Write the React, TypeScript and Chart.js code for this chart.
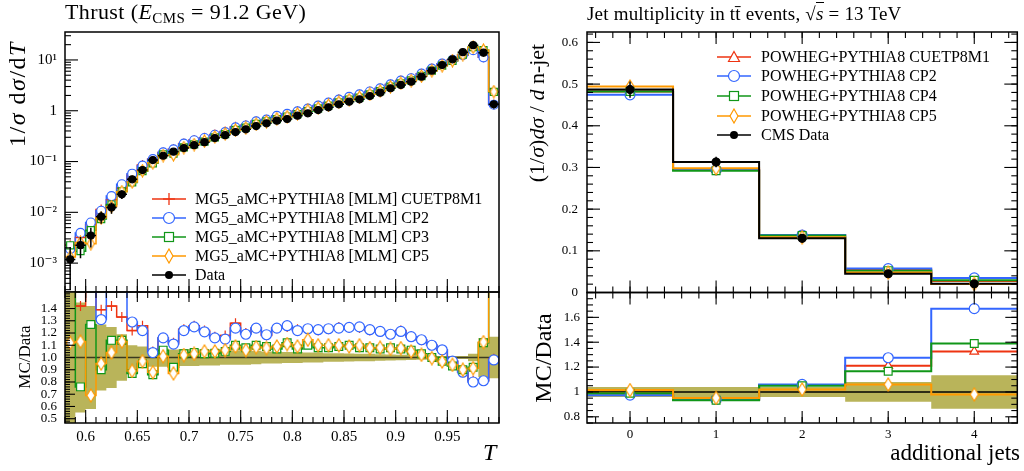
import React, { useEffect, useRef } from 'react';
import { Chart, registerables } from 'chart.js';

Chart.register(...registerables);

const FONT = "'Liberation Serif', 'DejaVu Serif', serif";
const RED = '#EE3311';
const BLUE = '#3366FF';
const GREEN = '#109618';
const ORANGE = '#FF9900';
const BAND = '#b9b45a';

// ---------------- Left panel: Thrust (E_CMS = 91.2 GeV) ----------------
const thrustEdges = [0.58, 0.59, 0.6, 0.61, 0.62, 0.63, 0.64, 0.65, 0.66, 0.67, 0.68, 0.69, 0.7, 0.71, 0.72, 0.73, 0.74, 0.75, 0.76, 0.77, 0.78, 0.79, 0.8, 0.81, 0.82, 0.83, 0.84, 0.85, 0.86, 0.87, 0.88, 0.89, 0.9, 0.91, 0.92, 0.93, 0.94, 0.95, 0.96, 0.97, 0.98, 0.99, 1.0];
const thrustData = [0.00118, 0.00226, 0.0035, 0.0082, 0.0125, 0.0226, 0.0446, 0.068, 0.107, 0.13, 0.156, 0.184, 0.21, 0.24, 0.29, 0.33, 0.38, 0.43, 0.5, 0.566, 0.637, 0.687, 0.8, 0.89, 1.03, 1.17, 1.34, 1.51, 1.68, 1.95, 2.27, 2.77, 3.22, 3.73, 4.69, 6.15, 7.96, 10.3, 14.2, 19.5, 13.9, 1.34];
const thrustDataRelErr = [0.75, 0.45, 0.42, 0.27, 0.25, 0.19, 0.1, 0.09, 0.075, 0.075, 0.065, 0.07, 0.07, 0.065, 0.065, 0.06, 0.06, 0.06, 0.055, 0.05, 0.05, 0.045, 0.045, 0.04, 0.04, 0.035, 0.035, 0.033, 0.03, 0.03, 0.027, 0.025, 0.022, 0.02, 0.018, 0.016, 0.013, 0.012, 0.012, 0.03, 0.16, 0.17];
// MC / Data ratios
const thrustRatioCUETP8M1 = [1.9, 1.42, 1.65, 1.39, 1.42, 1.33, 1.22, 1.26, 1.05, 1.16, 1.12, 1.23, 1.26, 1.22, 1.17, 1.18, 1.28, 1.2, 1.24, 1.18, 1.24, 1.25, 1.23, 1.23, 1.22, 1.23, 1.25, 1.24, 1.24, 1.22, 1.21, 1.19, 1.22, 1.17, 1.14, 1.1, 1.06, 0.97, 0.88, 0.81, 0.81, 0.99];
const thrustRatioCP2 = [1.6, 1.74, 1.8, 1.31, 1.67, 1.58, 1.29, 1.22, 1.04, 1.16, 1.11, 1.22, 1.25, 1.21, 1.16, 1.15, 1.24, 1.19, 1.24, 1.186, 1.24, 1.26, 1.22, 1.235, 1.227, 1.235, 1.24, 1.246, 1.25, 1.227, 1.213, 1.19, 1.213, 1.17, 1.145, 1.1, 1.063, 0.97, 0.88, 0.8, 0.81, 0.98];
const thrustRatioCP3 = [1.9, 0.76, 1.27, 0.9, 1.14, 1.14, 0.87, 0.95, 0.86, 1.06, 0.92, 1.03, 1.04, 1.03, 1.035, 1.05, 1.1, 1.08, 1.1, 1.09, 1.07, 1.12, 1.07, 1.1, 1.08, 1.08, 1.09, 1.1, 1.08, 1.08, 1.07, 1.08, 1.07, 1.06, 1.03, 1.0, 0.97, 0.93, 0.9, 0.92, 1.12, 1.75];
const thrustRatioCP5 = [1.12, 1.13, 0.69, 0.95, 1.04, 1.13, 0.89, 0.97, 0.88, 1.01, 0.87, 1.02, 1.03, 1.05, 1.05, 1.06, 1.09, 1.06, 1.085, 1.077, 1.09, 1.11, 1.09, 1.145, 1.1, 1.1, 1.1, 1.09, 1.1, 1.077, 1.08, 1.07, 1.077, 1.05, 1.022, 0.995, 0.967, 0.94, 0.9, 0.913, 1.126, 1.78];
const thrustLogTicks = [1e-3, 1e-2, 1e-1, 1, 10];
const thrustLogTickLabels = ['10⁻³', '10⁻²', '10⁻¹', '1', '10¹'];
const thrustXTicks = [0.6, 0.65, 0.7, 0.75, 0.8, 0.85, 0.9, 0.95];
const thrustXTickLabels = ['0.6', '0.65', '0.7', '0.75', '0.8', '0.85', '0.9', '0.95'];
const thrustRatioTicks = [0.5, 0.6, 0.7, 0.8, 0.9, 1.0, 1.1, 1.2, 1.3, 1.4];
const thrustRatioTickLabels = ['0.5', '0.6', '0.7', '0.8', '0.9', '1.0', '1.1', '1.2', '1.3', '1.4'];

// ---------------- Right panel: jet multiplicity in ttbar ----------------
const njetCategories = [0, 1, 2, 3, 4];
const njetEdges = [-0.5, 0.5, 1.5, 2.5, 3.5, 4.5];
const njetData = [0.487, 0.313, 0.13, 0.045, 0.021];
const njetDataRelErr = [0.04, 0.04, 0.04, 0.08, 0.135];
const njetRatioCUETP8M1 = [0.99, 0.94, 1.055, 1.21, 1.325];
const njetRatioCP2 = [0.974, 0.94, 1.06, 1.275, 1.67];
const njetRatioCP4 = [0.99, 0.933, 1.05, 1.166, 1.39];
const njetRatioCP5 = [1.015, 0.952, 1.02, 1.06, 0.98];
const njetYTicks = [0, 0.1, 0.2, 0.3, 0.4, 0.5, 0.6];
const njetYTickLabels = ['0', '0.1', '0.2', '0.3', '0.4', '0.5', '0.6'];
const njetRatioTicks = [0.8, 1.0, 1.2, 1.4, 1.6];
const njetRatioTickLabels = ['0.8', '1', '1.2', '1.4', '1.6'];
const njetXTickLabels = ['0', '1', '2', '3', '4'];

// ---------------- helpers ----------------
type Pt = { x: number; y: number | null };

const range = (a: number, b: number, step: number) => {
  const out: number[] = [];
  const n = Math.round((b - a) / step);
  for (let i = 0; i <= n; i++) out.push(+(a + i * step).toFixed(6));
  return out;
};

const stepPts = (edges: number[], vals: number[]): Pt[] => {
  const pts: Pt[] = vals.map((v, i) => ({ x: edges[i], y: v }));
  pts.push({ x: edges[edges.length - 1], y: vals[vals.length - 1] });
  return pts;
};
const centerPts = (edges: number[], vals: number[]): Pt[] =>
  vals.map((v, i) => ({ x: (edges[i] + edges[i + 1]) / 2, y: v }));
const vErrPts = (edges: number[], vals: number[], rel: number[]): Pt[] =>
  vals.flatMap((v, i) => {
    const c = (edges[i] + edges[i + 1]) / 2;
    return [{ x: c, y: v * (1 - rel[i]) }, { x: c, y: v * (1 + rel[i]) }, { x: c, y: null }];
  });
const hBarPts = (edges: number[], vals: number[]): Pt[] =>
  vals.flatMap((v, i) => [{ x: edges[i], y: v }, { x: edges[i + 1], y: v }, { x: edges[i + 1], y: null }]);

function mkDiamond(w: number, h: number, color: string): HTMLCanvasElement {
  const c = document.createElement('canvas');
  c.width = w + 2;
  c.height = h + 2;
  const g = c.getContext('2d')!;
  g.beginPath();
  g.moveTo(c.width / 2, 1);
  g.lineTo(c.width - 1, c.height / 2);
  g.lineTo(c.width / 2, c.height - 1);
  g.lineTo(1, c.height / 2);
  g.closePath();
  g.fillStyle = '#fff';
  g.fill();
  g.strokeStyle = color;
  g.lineWidth = 1.2;
  g.stroke();
  return c;
}

const stepDs = (data: Pt[], color: string, width: number) => ({
  data, borderColor: color, backgroundColor: color, borderWidth: width, stepped: true,
  pointRadius: 0, fill: false, spanGaps: false,
});
const lineDs = (data: Pt[], color: string, width: number) => ({
  data, borderColor: color, backgroundColor: color, borderWidth: width,
  pointRadius: 0, fill: false, spanGaps: false,
});
const markerDs = (data: Pt[], style: any, color: string, radius: number, fillColor = '#fff') => ({
  data, showLine: false, pointStyle: style, pointRadius: radius,
  pointBorderColor: color, pointBackgroundColor: fillColor, pointBorderWidth: 1.2,
  borderColor: color, backgroundColor: fillColor,
});
const bandDs = (upper: Pt[], lower: Pt[]) => [
  { data: upper, borderWidth: 0, borderColor: 'rgba(0,0,0,0)', backgroundColor: BAND, stepped: true, pointRadius: 0, fill: '+1' },
  { data: lower, borderWidth: 0, borderColor: 'rgba(0,0,0,0)', backgroundColor: BAND, stepped: true, pointRadius: 0, fill: false },
];

// frame + inward ticks drawn from the scales
const frameTicks = {
  id: 'frameTicks',
  afterDraw(chart: any, _args: any, opts: any) {
    const { ctx, chartArea: a } = chart;
    ctx.save();
    ctx.strokeStyle = '#000';
    ctx.lineWidth = 1.1;
    for (const s of opts.specs || []) {
      const scale = chart.scales[s.scale];
      const groups: [number[], number][] = [[s.major, s.majorLen], [s.minor, s.minorLen]];
      for (const [vals, len] of groups) {
        for (const v of vals) {
          const p = scale.getPixelForValue(v);
          const horiz = s.side === 'top' || s.side === 'bottom';
          if (horiz && (p < a.left - 0.5 || p > a.right + 0.5)) continue;
          if (!horiz && (p < a.top - 0.5 || p > a.bottom + 0.5)) continue;
          ctx.beginPath();
          if (s.side === 'bottom') { ctx.moveTo(p, a.bottom); ctx.lineTo(p, a.bottom - len); }
          else if (s.side === 'top') { ctx.moveTo(p, a.top); ctx.lineTo(p, a.top + len); }
          else if (s.side === 'left') { ctx.moveTo(a.left, p); ctx.lineTo(a.left + len, p); }
          else { ctx.moveTo(a.right, p); ctx.lineTo(a.right - len, p); }
          ctx.stroke();
        }
      }
    }
    ctx.lineWidth = 1.5;
    ctx.strokeRect(a.left, a.top, a.right - a.left, a.bottom - a.top);
    ctx.restore();
  },
};
Chart.register(frameTicks);

function axis(o: {
  type?: string; min: number; max: number; ticks?: number[]; labels?: string[];
  size?: number; pad?: number; fit: (s: any) => void;
}) {
  return {
    type: o.type || 'linear',
    min: o.min,
    max: o.max,
    grid: { display: false, drawTicks: false },
    border: { display: false },
    ticks: {
      display: !!o.labels,
      autoSkip: false,
      maxRotation: 0,
      minRotation: 0,
      color: '#000',
      font: { family: FONT, size: o.size || 13 },
      padding: o.pad ?? 6,
      callback: (_v: any, i: number) => (o.labels ? o.labels[i] : ''),
    },
    afterBuildTicks: (s: any) => {
      if (o.ticks) s.ticks = o.ticks.map((v) => ({ value: v }));
    },
    afterFit: o.fit,
  };
}

function makeChart(canvas: HTMLCanvasElement, datasets: any[], scales: any, padding: any, specs: any[]) {
  return new Chart(canvas, {
    type: 'line',
    data: { datasets },
    options: {
      animation: false,
      responsive: false,
      maintainAspectRatio: false,
      events: [],
      layout: { padding },
      elements: { line: { tension: 0 } },
      plugins: {
        legend: { display: false },
        tooltip: { enabled: false },
        // @ts-ignore
        frameTicks: { specs },
      },
      scales,
    } as any,
  });
}

const W = 1024;
const H = 471;

function Marker({ kind, color }: { kind: string; color: string }) {
  switch (kind) {
    case 'cross':
      return (
        <g stroke={color} strokeWidth={1.3}>
          <line x1={17} y1={2} x2={17} y2={14} />
          <line x1={11} y1={8} x2={23} y2={8} />
        </g>
      );
    case 'circle':
      return <circle cx={17} cy={8} r={5.5} fill="#fff" stroke={color} strokeWidth={1.2} />;
    case 'square':
      return <rect x={12.5} y={3.5} width={9} height={9} fill="#fff" stroke={color} strokeWidth={1.2} />;
    case 'diamond':
      return <polygon points="17,1 21,8 17,15 13,8" fill="#fff" stroke={color} strokeWidth={1.2} />;
    case 'triangle':
      return <polygon points="17,2.5 22.5,12.5 11.5,12.5" fill="#fff" stroke={color} strokeWidth={1.2} />;
    default:
      return <circle cx={17} cy={8} r={4} fill="#000" />;
  }
}

function LegendRow(p: { cy: number; lineX: number; textX: number; fs: number; kind: string; color: string; label: string }) {
  return (
    <>
      <svg width={34} height={16} style={{ position: 'absolute', left: p.lineX, top: p.cy - 8 }}>
        <line x1={0} y1={8} x2={34} y2={8} stroke={p.color} strokeWidth={1.6} />
        <Marker kind={p.kind} color={p.color} />
      </svg>
      <div style={{ position: 'absolute', left: p.textX, top: p.cy - 10, fontSize: p.fs, lineHeight: '20px', whiteSpace: 'nowrap' }}>
        {p.label}
      </div>
    </>
  );
}

const leftLegend = [
  { kind: 'cross', color: RED, label: 'MG5_aMC+PYTHIA8 [MLM] CUETP8M1' },
  { kind: 'circle', color: BLUE, label: 'MG5_aMC+PYTHIA8 [MLM] CP2' },
  { kind: 'square', color: GREEN, label: 'MG5_aMC+PYTHIA8 [MLM] CP3' },
  { kind: 'diamond', color: ORANGE, label: 'MG5_aMC+PYTHIA8 [MLM] CP5' },
  { kind: 'dot', color: '#000', label: 'Data' },
];
const rightLegend = [
  { kind: 'triangle', color: RED, label: 'POWHEG+PYTHIA8 CUETP8M1' },
  { kind: 'circle', color: BLUE, label: 'POWHEG+PYTHIA8 CP2' },
  { kind: 'square', color: GREEN, label: 'POWHEG+PYTHIA8 CP4' },
  { kind: 'diamond', color: ORANGE, label: 'POWHEG+PYTHIA8 CP5' },
  { kind: 'dot', color: '#000', label: 'CMS Data' },
];

export default function App() {
  const c1 = useRef<HTMLCanvasElement>(null);
  const c2 = useRef<HTMLCanvasElement>(null);
  const c3 = useRef<HTMLCanvasElement>(null);
  const c4 = useRef<HTMLCanvasElement>(null);

  useEffect(() => {
    const charts: Chart[] = [];
    const dOrangeS = mkDiamond(7, 12, ORANGE);
    const dOrangeL = mkDiamond(8, 13, ORANGE);

    // ----- left main (log) -----
    const tMC = [thrustRatioCUETP8M1, thrustRatioCP2, thrustRatioCP3, thrustRatioCP5].map((r) =>
      thrustData.map((d, i) => d * r[i]));
    const logMinor: number[] = [];
    for (let k = -4; k <= 1; k++) for (let m = 2; m <= 9; m++) logMinor.push(m * Math.pow(10, k));
    const xMinorT = range(0.58, 1.0, 0.01);

    const LM = { L: 65, R: 499, T: 32, B: 292 };
    charts.push(makeChart(c1.current!, [
      markerDs(centerPts(thrustEdges, thrustData), 'circle', '#000', 3.5, '#000'),
      lineDs(vErrPts(thrustEdges, thrustData, thrustDataRelErr), '#000', 1.5),
      lineDs(hBarPts(thrustEdges, thrustData), '#000', 1.5),
      markerDs(centerPts(thrustEdges, tMC[3]), dOrangeS, ORANGE, 5),
      markerDs(centerPts(thrustEdges, tMC[2]), 'rect', GREEN, 5),
      markerDs(centerPts(thrustEdges, tMC[1]), 'circle', BLUE, 4.5),
      markerDs(centerPts(thrustEdges, tMC[0]), 'cross', RED, 5),
      stepDs(stepPts(thrustEdges, tMC[3]), ORANGE, 1.5),
      stepDs(stepPts(thrustEdges, tMC[2]), GREEN, 1.5),
      stepDs(stepPts(thrustEdges, tMC[1]), BLUE, 1.5),
      stepDs(stepPts(thrustEdges, tMC[0]), RED, 1.5),
    ], {
      x: axis({ min: 0.58, max: 1.0, fit: (s) => { s.height = H - LM.B; } }),
      y: axis({ type: 'logarithmic', min: 2.7e-4, max: 35.5, ticks: thrustLogTicks, labels: thrustLogTickLabels, size: 15, pad: 8, fit: (s) => { s.width = LM.L; } }),
    }, { left: 0, top: LM.T, right: W - LM.R, bottom: 0 }, [
      { scale: 'y', side: 'left', major: thrustLogTicks, minor: logMinor, majorLen: 13, minorLen: 6 },
      { scale: 'x', side: 'bottom', major: thrustXTicks, minor: xMinorT, majorLen: 13, minorLen: 6 },
    ]));

    // ----- left ratio -----
    const LR = { L: 65, R: 499, T: 292, B: 423 };
    const ones = thrustData.map(() => 1);
    charts.push(makeChart(c2.current!, [
      markerDs(centerPts(thrustEdges, thrustRatioCP5), dOrangeL, ORANGE, 5),
      markerDs(centerPts(thrustEdges, thrustRatioCP3), 'rect', GREEN, 5.5),
      markerDs(centerPts(thrustEdges, thrustRatioCP2), 'circle', BLUE, 5),
      markerDs(centerPts(thrustEdges, thrustRatioCUETP8M1), 'cross', RED, 5),
      stepDs(stepPts(thrustEdges, thrustRatioCP5), ORANGE, 1.5),
      stepDs(stepPts(thrustEdges, thrustRatioCP3), GREEN, 1.5),
      stepDs(stepPts(thrustEdges, thrustRatioCP2), BLUE, 1.5),
      stepDs(stepPts(thrustEdges, thrustRatioCUETP8M1), RED, 1.5),
      stepDs(stepPts(thrustEdges, ones), '#3a3a20', 1.5),
      ...bandDs(stepPts(thrustEdges, thrustDataRelErr.map((e) => 1 + e)), stepPts(thrustEdges, thrustDataRelErr.map((e) => 1 - e))),
    ], {
      x: axis({ min: 0.58, max: 1.0, ticks: thrustXTicks, labels: thrustXTickLabels, size: 15, pad: 5, fit: (s) => { s.height = H - LR.B; } }),
      y: axis({ min: 0.465, max: 1.535, ticks: thrustRatioTicks, labels: thrustRatioTickLabels, size: 13, pad: 8, fit: (s) => { s.width = LR.L; } }),
    }, { left: 0, top: LR.T, right: W - LR.R, bottom: 0 }, [
      { scale: 'y', side: 'left', major: thrustRatioTicks, minor: range(0.48, 1.52, 0.02), majorLen: 10, minorLen: 5 },
      { scale: 'x', side: 'top', major: thrustXTicks, minor: xMinorT, majorLen: 10, minorLen: 6 },
      { scale: 'x', side: 'bottom', major: thrustXTicks, minor: xMinorT, majorLen: 13, minorLen: 6 },
    ]));

    // ----- right main -----
    const nMC = [njetRatioCUETP8M1, njetRatioCP2, njetRatioCP4, njetRatioCP5].map((r) =>
      njetData.map((d, i) => d * r[i]));
    const xMinorN = range(-0.4, 4.4, 0.2);
    const RM = { L: 587, R: 1020, T: 32, B: 292.5 };
    charts.push(makeChart(c3.current!, [
      markerDs(centerPts(njetEdges, njetData), 'circle', '#000', 4, '#000'),
      lineDs(vErrPts(njetEdges, njetData, njetDataRelErr), '#000', 1.5),
      markerDs(centerPts(njetEdges, nMC[3]), dOrangeL, ORANGE, 5),
      markerDs(centerPts(njetEdges, nMC[2]), 'rect', GREEN, 5.5),
      markerDs(centerPts(njetEdges, nMC[1]), 'circle', BLUE, 5),
      markerDs(centerPts(njetEdges, nMC[0]), 'triangle', RED, 5),
      stepDs(stepPts(njetEdges, njetData), '#000', 2),
      stepDs(stepPts(njetEdges, nMC[3]), ORANGE, 2),
      stepDs(stepPts(njetEdges, nMC[2]), GREEN, 2),
      stepDs(stepPts(njetEdges, nMC[1]), BLUE, 2),
      stepDs(stepPts(njetEdges, nMC[0]), RED, 2),
    ], {
      x: axis({ min: -0.5, max: 4.5, fit: (s) => { s.height = H - RM.B; } }),
      y: axis({ min: 0, max: 0.625, ticks: njetYTicks, labels: njetYTickLabels, size: 13, pad: 9, fit: (s) => { s.width = RM.L; } }),
    }, { left: 0, top: RM.T, right: W - RM.R, bottom: 0 }, [
      { scale: 'y', side: 'left', major: njetYTicks, minor: range(0, 0.62, 0.02), majorLen: 13, minorLen: 6 },
      { scale: 'y', side: 'right', major: njetYTicks, minor: range(0, 0.62, 0.02), majorLen: 13, minorLen: 6 },
      { scale: 'x', side: 'top', major: njetCategories, minor: xMinorN, majorLen: 12, minorLen: 6 },
      { scale: 'x', side: 'bottom', major: njetCategories, minor: xMinorN, majorLen: 12, minorLen: 6 },
    ]));

    // ----- right ratio -----
    const RR = { L: 587, R: 1020, T: 292.5, B: 423 };
    const nOnes = njetData.map(() => 1);
    charts.push(makeChart(c4.current!, [
      markerDs(centerPts(njetEdges, njetRatioCP5), dOrangeL, ORANGE, 5),
      markerDs(centerPts(njetEdges, njetRatioCP4), 'rect', GREEN, 5.5),
      markerDs(centerPts(njetEdges, njetRatioCP2), 'circle', BLUE, 5),
      markerDs(centerPts(njetEdges, njetRatioCUETP8M1), 'triangle', RED, 5),
      stepDs(stepPts(njetEdges, njetRatioCP5), ORANGE, 2),
      stepDs(stepPts(njetEdges, njetRatioCP4), GREEN, 2),
      stepDs(stepPts(njetEdges, njetRatioCP2), BLUE, 2),
      stepDs(stepPts(njetEdges, njetRatioCUETP8M1), RED, 2),
      stepDs(stepPts(njetEdges, nOnes), '#000', 1.5),
      ...bandDs(stepPts(njetEdges, njetDataRelErr.map((e) => 1 + e)), stepPts(njetEdges, njetDataRelErr.map((e) => 1 - e))),
    ], {
      x: axis({ min: -0.5, max: 4.5, ticks: njetCategories, labels: njetXTickLabels, size: 13, pad: 4, fit: (s) => { s.height = H - RR.B; } }),
      y: axis({ min: 0.75, max: 1.8, ticks: njetRatioTicks, labels: njetRatioTickLabels, size: 13, pad: 7, fit: (s) => { s.width = RR.L; } }),
    }, { left: 0, top: RR.T, right: W - RR.R, bottom: 0 }, [
      { scale: 'y', side: 'left', major: njetRatioTicks, minor: range(0.75, 1.8, 0.05), majorLen: 12, minorLen: 6 },
      { scale: 'y', side: 'right', major: njetRatioTicks, minor: range(0.75, 1.8, 0.05), majorLen: 12, minorLen: 6 },
      { scale: 'x', side: 'top', major: njetCategories, minor: xMinorN, majorLen: 12, minorLen: 6 },
      { scale: 'x', side: 'bottom', major: njetCategories, minor: xMinorN, majorLen: 12, minorLen: 6 },
    ]));

    return () => charts.forEach((c) => c.destroy());
  }, []);

  const cv: React.CSSProperties = { position: 'absolute', left: 0, top: 0, width: W, height: H };
  const rot = (cx: number, cy: number, fs: number, ls = 0): React.CSSProperties => ({
    position: 'absolute', left: cx, top: cy, transform: 'translate(-50%,-50%) rotate(-90deg)',
    whiteSpace: 'nowrap', fontSize: fs, lineHeight: 1, letterSpacing: ls,
  });

  return (
    <div style={{ position: 'fixed', left: 0, top: 0, width: W, height: H, background: '#fff', fontFamily: FONT, color: '#000', overflow: 'hidden' }}>
      <canvas ref={c1} width={W} height={H} style={cv} />
      <canvas ref={c2} width={W} height={H} style={cv} />
      <canvas ref={c3} width={W} height={H} style={cv} />
      <canvas ref={c4} width={W} height={H} style={cv} />

      <div style={{ position: 'absolute', left: 65, top: 0, fontSize: 22, lineHeight: '24px', whiteSpace: 'nowrap', letterSpacing: 0.4 }}>
        Thrust (<i>E</i><span style={{ fontSize: 15, position: 'relative', top: 4 }}>CMS</span> = 91.2 GeV)
      </div>
      <div style={{ position: 'absolute', left: 587, top: 3, fontSize: 19, lineHeight: '22px', whiteSpace: 'nowrap', letterSpacing: 0.2 }}>
        Jet multiplicity in tt̄ events, √<span style={{ borderTop: '1px solid #000' }}><i>s</i></span> = 13 TeV
      </div>

      <div style={rot(17, 94, 24, 1.5)}>1/<i>σ</i> d<i>σ</i>/d<i>T</i></div>
      <div style={rot(24, 357, 17)}>MC/Data</div>
      <div style={{ position: 'absolute', left: 483, top: 438, fontSize: 24, lineHeight: '28px' }}><i>T</i></div>

      <div style={rot(537, 113, 22)}>(1/<i>σ</i>)<i>dσ</i> / <i>d</i> n-jet</div>
      <div style={rot(543, 358, 24)}>MC/Data</div>
      <div style={{ position: 'absolute', right: 4, top: 439, fontSize: 23, lineHeight: '28px', whiteSpace: 'nowrap' }}>additional jets</div>

      {leftLegend.map((e, i) => (
        <LegendRow key={'l' + i} cy={198.5 + 19.2 * i} lineX={152} textX={195} fs={16} kind={e.kind} color={e.color} label={e.label} />
      ))}
      {rightLegend.map((e, i) => (
        <LegendRow key={'r' + i} cy={56.7 + 19.6 * i} lineX={717} textX={761} fs={16} kind={e.kind} color={e.color} label={e.label} />
      ))}
    </div>
  );
}
